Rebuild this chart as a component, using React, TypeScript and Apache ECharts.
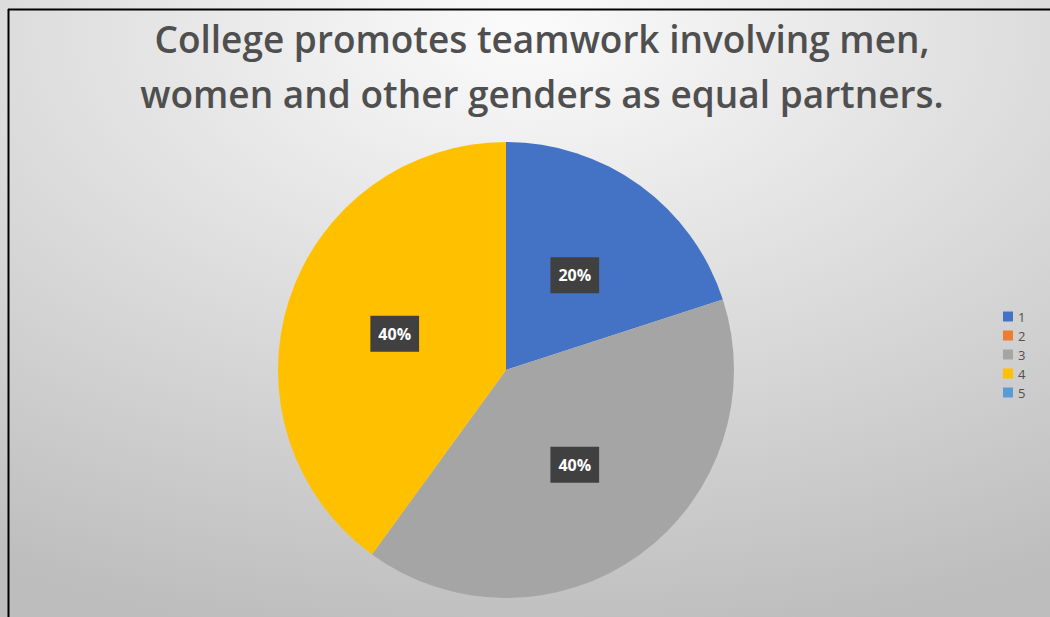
import React, { useEffect, useRef } from "react";
import * as echarts from "echarts";

const titleLines = [
  "College promotes teamwork involving men,",
  "women and other genders as equal partners.",
];
const categories = ["1", "2", "3", "4", "5"];
const values = [20, 0, 40, 40, 0];
const colors = ["#4472C4", "#ED7D31", "#A5A5A5", "#FFC000", "#5B9BD5"];

export default function App() {
  const ref = useRef<HTMLDivElement>(null);
  useEffect(() => {
    if (!ref.current) return;
    const chart = echarts.init(ref.current, null, { renderer: "svg" });
    chart.setOption({
      animation: false,
      backgroundColor: {
        type: "radial",
        x: 0.5,
        y: 0.05,
        r: 1.0,
        colorStops: [
          { offset: 0, color: "#fbfbfb" },
          { offset: 1, color: "#bdbdbd" },
        ],
      },
      title: {
        text: titleLines.join("\n"),
        left: 537,
        top: 6,
        textAlign: "center",
        textStyle: {
          fontFamily: "Open Sans",
          fontWeight: 600,
          fontSize: 37,
          lineHeight: 55,
          color: "#4f4f4f",
        },
      },
      legend: {
        orient: "vertical",
        left: 998,
        top: 305,
        itemWidth: 10,
        itemHeight: 10,
        itemGap: 6,
        icon: "rect",
        textStyle: { fontSize: 13, lineHeight: 12, color: "#505050", fontFamily: "Open Sans" },
        data: categories,
      },
      graphic: [
        { type: "line", shape: { x1: 8.5, y1: 9, x2: 8.5, y2: 617 }, style: { stroke: "#000", lineWidth: 2 } },
        { type: "line", shape: { x1: 8, y1: 9.5, x2: 1050, y2: 9.5 }, style: { stroke: "#000", lineWidth: 2 } },
      ],
      series: [
        {
          type: "pie",
          center: [506, 370],
          radius: 228,
          startAngle: 90,
          clockwise: true,
          avoidLabelOverlap: false,
          label: {
            show: true,
            position: "inside",
            formatter: "{d}%",
            color: "#ffffff",
            fontWeight: "bold",
            fontSize: 16,
            fontFamily: "Open Sans",
            backgroundColor: "#404040",
            padding: [10, 8, 10, 8],
          },
          labelLine: { show: false },
          itemStyle: { borderWidth: 0 },
          data: categories.map((c, i) => ({
            name: c,
            value: values[i],
            itemStyle: { color: colors[i] },
            label: values[i] === 0 ? { show: false } : undefined,
          })),
        },
      ],
    });
    return () => chart.dispose();
  }, []);
  return (
    <div
      ref={ref}
      style={{ position: "absolute", left: 0, top: 0, width: 1050, height: 617 }}
    />
  );
}
